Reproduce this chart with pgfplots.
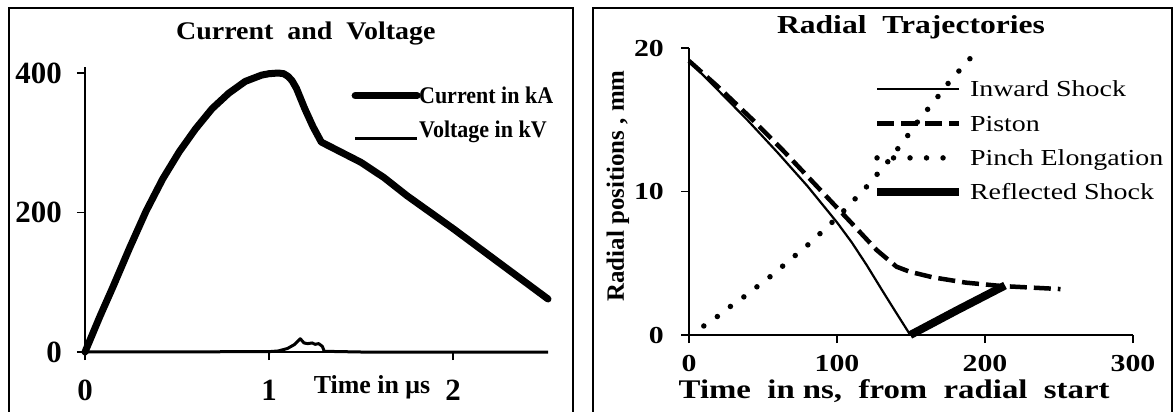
\documentclass[border=0pt]{standalone}
\usepackage{fontspec}
\setmainfont{Liberation Serif}
\newfontfamily\rwide[FakeStretch=1.22]{Liberation Serif}
\newfontfamily\lwide[FakeStretch=1.1]{Liberation Serif}
\newfontfamily\lcond[FakeStretch=0.92]{Liberation Serif}
\usepackage{pgfplots}
\pgfplotsset{compat=1.18}

\pgfplotsset{
  panel/.style={
    scale only axis,
    axis x line*=bottom, axis y line*=left,
    axis line style={line width=1.8bp, black},
    tick style={line width=1.8bp, black},
    tick align=outside, major tick length=8bp,
    /pgf/number format/assume math mode=true,
    tick label style={inner sep=0pt},
    legend cell align=left,
    clip=false,
  },
  % legend sample: fixed 16bp tall box, line drawn lower to sit at text middle
  limg/.style={legend image code/.code={%
    \draw[##1] (0bp,-0.5bp) -- (#1,-0.5bp);
    \pgfresetboundingbox
    \path[draw=none, fill=none] (0bp,0bp) rectangle (#1,16bp);}},
  % voltage sample sits near the text baseline
  vimg/.style={legend image code/.code={%
    \draw[##1] (0bp,-9bp) -- (62bp,-9bp);
    \pgfresetboundingbox
    \path[draw=none, fill=none] (0bp,0bp) rectangle (62bp,16bp);}},
}

\begin{document}
\begin{tikzpicture}
\useasboundingbox (0,0) rectangle (1174bp,-412bp);
% panel frames
\draw[line width=1.8bp] (9bp,-414bp) -- (9bp,-8bp) -- (573bp,-8bp) -- (573bp,-414bp);
\draw[line width=1.8bp] (593bp,-414bp) -- (593bp,-8bp) -- (1172bp,-8bp) -- (1172bp,-414bp);

% ---- left: current and voltage
\begin{axis}[panel,
  at={(85bp,-352bp)}, anchor=south west,
  width=463bp, height=285bp,
  xmin=0, xmax=2.516, ymin=0, ymax=408.6,
  xtick={0,1,2}, ytick={0,200,400},
  tick label style={font=\fontsize{31}{31}\selectfont\bfseries},
  yticklabel style={anchor=east, xshift=-15bp},
  xticklabel style={anchor=north, yshift=-20bp},
  title={Current\ \ and\ \ Voltage},
  title style={at={(rel axis cs:0.477,1.074)}, anchor=base,
    font=\fontsize{25.5}{25.5}\selectfont\lwide\bfseries},
  xlabel={Time in μs},
  xlabel style={at={(rel axis cs:0.62,0)}, anchor=base, yshift=-41bp, inner sep=0pt,
    font=\fontsize{26}{26}\selectfont\bfseries},
  limg=62bp,
  legend style={draw=none, fill=none, inner sep=0pt, column sep=2bp, row sep=10.5bp,
    at={(rel axis cs:0.583,0.958)}, anchor=north west,
    font=\fontsize{24}{24}\selectfont\lcond\bfseries,
    nodes={inner sep=0pt, text height=16bp, text depth=0bp}},
]
\addplot[black, line width=7bp, line join=round, line cap=round] coordinates {
  (0,0) (0.081,51) (0.153,94) (0.242,149) (0.332,202) (0.422,248)
  (0.512,287) (0.601,320) (0.691,349) (0.781,371) (0.871,388) (0.96,397)
  (1.0,399) (1.05,400) (1.08,399) (1.104,395) (1.125,389) (1.149,378)
  (1.194,349) (1.239,323) (1.284,301) (1.373,289) (1.499,272) (1.625,250)
  (1.75,224) (2.0,177) (2.25,128) (2.516,76)};
\addlegendentry{Current in kA}
\addplot[black, line width=3bp, line join=round, vimg] coordinates {
  (0,0) (1.0,0.5) (1.05,1.5) (1.10,5) (1.14,11) (1.17,19) (1.19,13)
  (1.21,12) (1.235,13) (1.25,11) (1.27,12) (1.29,8) (1.30,1) (1.5,0) (2.516,0)};
\addlegendentry{Voltage in kV}
\end{axis}

% ---- right: radial trajectories
\begin{axis}[panel,
  at={(689bp,-335bp)}, anchor=south west,
  width=444bp, height=287bp,
  xmin=0, xmax=300, ymin=0, ymax=20,
  xtick={0,100,200,300}, ytick={0,10,20},
  tick label style={font=\fontsize{24.5}{24.5}\selectfont\rwide\bfseries},
  yticklabel style={anchor=east, xshift=-17bp},
  xticklabel style={anchor=north, yshift=-12bp},
  title={Radial\ \ Trajectories},
  title style={at={(rel axis cs:0.5,1.031)}, anchor=base,
    font=\fontsize{26}{26}\selectfont\rwide\bfseries},
  xlabel={Time\ \ in ns,\ \ from\ \ radial\ \ start},
  xlabel style={at={(rel axis cs:0.462,0)}, anchor=base, yshift=-63bp, inner sep=0pt,
    font=\fontsize{27}{27}\selectfont\rwide\bfseries},
  ylabel={Radial positions , mm},
  ylabel style={at={(axis description cs:-0.16,0.519)}, anchor=center,
    font=\fontsize{25}{25}\selectfont\bfseries},
  limg=82bp,
  legend style={draw=none, fill=none, inner sep=0pt, column sep=11bp, row sep=10.4bp,
    at={(rel axis cs:0.423,0.915)}, anchor=north west,
    font=\fontsize{23}{23}\selectfont\rwide,
    nodes={inner sep=0pt, text height=16bp, text depth=0bp}},
]
\addplot[black, line width=2.2bp] coordinates {
  (0,19.1) (20,17.02) (40,14.92) (60,12.7) (80,10.38) (100,7.85)
  (110,6.45) (120,4.88) (130,3.2) (140,1.55) (149.5,0)};
\addlegendentry{Inward Shock}
\addplot[black, line width=4.5bp, dash pattern=on 17bp off 7bp] coordinates {
  (0,19.1) (19.6,17.3) (42,15.1) (64.3,12.78) (86.6,10.34) (108.9,7.9)
  (126.8,5.92) (140.2,4.76) (149.1,4.41) (164.7,4.02) (187,3.65)
  (211.6,3.41) (251,3.2)};
\addlegendentry{Piston}
\addplot[black, line width=5.5bp, line cap=round, dash pattern=on 0bp off 16.5bp] coordinates {
  (10,0.63) (19.6,1.32) (28.6,2.04) (38.2,2.74) (46.9,3.44) (56.5,4.2)
  (65,4.95) (74.3,5.76) (82.6,6.48) (91.1,7.32) (99.6,8.13) (107.8,8.99)
  (115.6,9.87) (123.4,10.69) (130.1,11.61) (137.5,12.43) (143.5,13.36)
  (150.9,14.29) (156.3,15.15) (165.2,16.19) (171.4,17.07) (179.2,18.05)
  (186.6,18.86) (194.6,19.84)};
\addlegendentry{Pinch Elongation}
\addplot[black, line width=8bp] coordinates {
  (149.5,0) (181,1.72) (213.5,3.45)};
\addlegendentry{Reflected Shock}
\end{axis}
\end{tikzpicture}
\end{document}
